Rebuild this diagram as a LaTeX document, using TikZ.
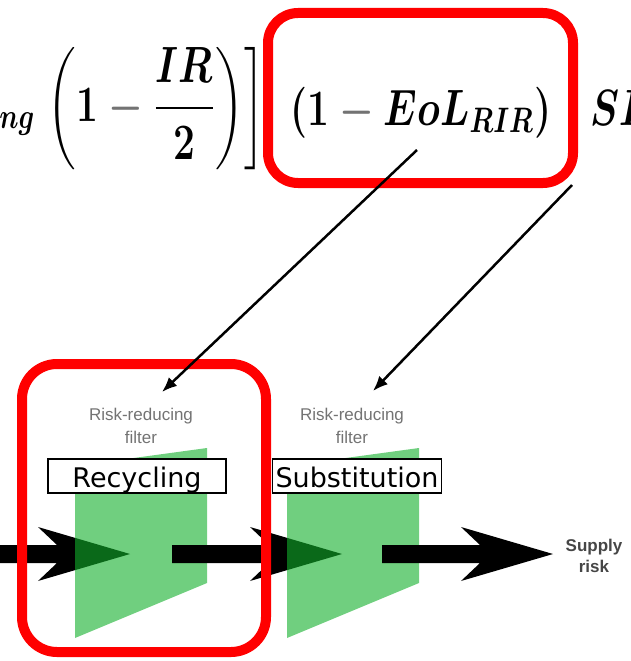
\documentclass[tikz,border=0pt]{standalone}
\usepackage{amsmath,amssymb}
\usepackage{fontspec}
\usepackage{tikz}
\usetikzlibrary{calc}
\usetikzlibrary{arrows.meta,%shapes,
positioning%
}
\newfontfamily\arialf{Liberation Sans}
\newfontfamily\verdf{DejaVu Sans}
\definecolor{Red1}{RGB}{255,0,0}
\definecolor{Filt}{RGB}{17,175,42}
\definecolor{Grey1}{RGB}{115,115,115}
\definecolor{Grey2}{RGB}{70,70,70}
\newcommand{\bigarr}[2]{\fill[black] (#1,545) -- (#2-73,545) -- (#2-92,527) -- (#2,554) -- (#2-92,581) -- (#2-73,563) -- (#1,563) -- cycle;}
\newcommand{\filter}[1]{\fill[Filt, fill opacity=0.6] (#1,466) -- (#1+132,448) -- (#1+132,583) -- (#1,638) -- cycle;}
\newcommand{\gmin}{\mathbin{\textcolor{Grey1}{-}}}

\begin{document}
\begin{tikzpicture}[x=1pt, y=-1pt]
\newdimen\lw
\newdimen\ra
\lw=10pt
\ra=30pt

\useasboundingbox (0,0) rectangle (631,661);
\clip (0,0) rectangle (631,661);

\tikzset{
  formula/.style={anchor=base west, inner sep=0pt, xscale=2.25, yscale=2.95, transform shape, font=\LARGE\boldmath},
  riskred/.style={align=center, Grey1, inner sep=0pt, font=\arialf\fontsize{17}{23}\selectfont},
  labbox/.style={draw, line width=1.5pt, fill=white, text height=24pt, text depth=2pt, inner ysep=4pt, font=\verdf\fontsize{27}{30}\selectfont},
  thinarr/.style={line width=2.5pt, -{Latex[length=15pt, width=12pt]}}
}

% the formula
\node[formula] (fleft) at (-1,121) {$_{ng}\;\bigg(1\gmin\dfrac{IR}{2}\bigg)\bigg]$};
\node[formula] (eol) at (290,125) {$(1\gmin EoL_{RIR})$};
\node[formula] (si) at (590,125) {$SI$};
\draw[rounded corners=\ra, line width=\lw, Red1] (268,13) rectangle (573,183); % term in focus

% pipeline of filters
\bigarr{-10}{130}
\filter{75}
\bigarr{172}{342}
\filter{287}
\bigarr{382}{553}

\node[riskred] (rrfA) at (141,426) {Risk-reducing\\filter};
\node[riskred] (rrfB) at (352,426) {Risk-reducing\\filter};
\node[align=center, Grey2, inner sep=0pt, font=\arialf\bfseries\fontsize{17}{21}\selectfont] (supply) at (594,556) {Supply\\risk};

\draw[rounded corners=35pt, line width=\lw, Red1] (22,364) rectangle (266,652); % recycling filter
\node[labbox, minimum width=178pt] (rec) at (137,476) {Recycling};
\node[labbox, inner xsep=3pt] (sub) at (357,476) {Substitution};

\coordinate (srcA) at (417,150);
\coordinate (srcB) at (572,185);
\coordinate (tipA) at (162,392);
\coordinate (tipB) at (373,391);
\draw[thinarr] (srcA) -- (tipA);
\draw[thinarr] (srcB) -- (tipB);
\end{tikzpicture}
\end{document}
